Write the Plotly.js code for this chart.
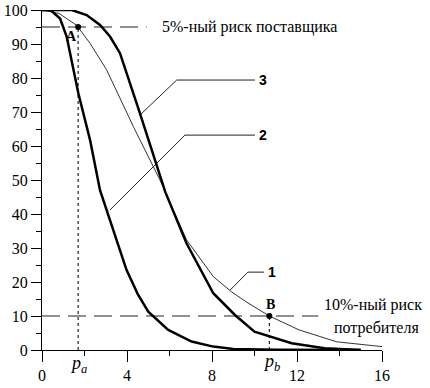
<!DOCTYPE html>
<html><head><meta charset="utf-8">
<script src="https://cdn.plot.ly/plotly-3.0.1.min.js"></script>
<style>body{margin:0;background:#fff}#c{width:430px;height:388px}</style>
</head><body><div id="c"></div>
<script>
// Curve 1 (thin)
const x1 = [0, 0.8, 1.63, 2.26, 3.04, 4.3, 5.55, 6.8, 8.06, 8.9, 9.6, 10.7, 12.1, 13.87, 16];
const y1 = [100, 99, 95.5, 90.2, 82.4, 65.7, 50, 32.4, 21.6, 17.2, 14.2, 10, 5.9, 2.4, 1];
// Curve 2 (thick, steep)
const x2 = [0, 0.4, 0.85, 1.16, 1.71, 2.26, 2.73, 3.3, 3.98, 4.5, 5.0, 5.94, 7.04, 8.06, 9, 11, 13, 15];
const y2 = [100, 100, 97.5, 92.2, 75.5, 61.8, 47, 36, 23.5, 16.5, 11.3, 5.9, 2.5, 1, 0.3, 0.1, 0, 0];
// Curve 3 (thick)
const x3 = [0, 1.0, 1.4, 2.1, 2.73, 3.2, 3.67, 4.61, 5.8, 6.8, 8.06, 9.08, 10.0, 11.75, 13.3, 15];
const y3 = [100, 100, 100, 98.5, 95.6, 92.2, 87.3, 69.6, 46.5, 31.4, 16.7, 10.3, 5.4, 2, 0.5, 0];

const supplierRisk = 95, consumerRisk = 10;
const pa = 1.7, pb = 10.7;
const riskLineEnds = [4.93, 13.0];
const pointLabels = ['A', 'B'];

const curveLabels = ['3', '2', '1'];
const leaderTextX = [10.02, 10.02, 10.45];
const leaderY = [79.4, 63.2, 22.9];
const leaderBendX = [6.34, 6.73, 9.69];
const leaderEndX = [4.61, 3.2, 8.85];
const leaderEndY = [69.1, 41.2, 17.6];

const xTickVals = [0, 4, 8, 12, 16];
const yTickVals = [0, 10, 20, 30, 40, 50, 60, 70, 80, 90, 100];

const serif = 'Liberation Serif';
const traces = [];
traces.push({x:[0, riskLineEnds[0]], y:[supplierRisk, supplierRisk], mode:'lines', line:{color:'#222', width:1, dash:'18px,8px'}, hoverinfo:'skip'});
traces.push({x:[0, riskLineEnds[1]], y:[consumerRisk, consumerRisk], mode:'lines', line:{color:'#222', width:1, dash:'18px,8px'}, hoverinfo:'skip'});
traces.push({x:[pa, pa], y:[0, supplierRisk], mode:'lines', line:{color:'#222', width:1.2, dash:'dot'}, hoverinfo:'skip'});
traces.push({x:[pb, pb], y:[0, consumerRisk], mode:'lines', line:{color:'#222', width:1.2, dash:'dot'}, hoverinfo:'skip'});
for (let i = 0; i < curveLabels.length; i++) {
  traces.push({x:[leaderTextX[i], leaderBendX[i], leaderEndX[i]], y:[leaderY[i], leaderY[i], leaderEndY[i]], mode:'lines', line:{color:'#222', width:1}, hoverinfo:'skip'});
}
traces.push({x:x1, y:y1, mode:'lines', line:{color:'#333', width:1}, cliponaxis:false});
traces.push({x:x2, y:y2, mode:'lines', line:{color:'#000', width:2.5}, cliponaxis:false});
traces.push({x:x3, y:y3, mode:'lines', line:{color:'#000', width:2.5}, cliponaxis:false});
traces.push({x:[pa, pb], y:[supplierRisk, consumerRisk], mode:'markers', marker:{color:'#000', size:6}, cliponaxis:false});

const annotations = [
  {x:5.55, y:supplierRisk, xanchor:'left', yanchor:'middle', text:'5%-ный риск поставщика', font:{family:serif, size:16, color:'#000'}},
  {x:13.18, y:13.2, xanchor:'left', yanchor:'middle', text:'10%-ный риск', font:{family:serif, size:16, color:'#000'}},
  {x:13.65, y:6.5, xanchor:'left', yanchor:'middle', text:'потребителя', font:{family:serif, size:16, color:'#000'}},
  {x:1.41, y:92.1, xanchor:'center', yanchor:'middle', text:'<b>'+pointLabels[0]+'</b>', font:{family:serif, size:14, color:'#000'}},
  {x:10.73, y:13.4, xanchor:'center', yanchor:'middle', text:'<b>'+pointLabels[1]+'</b>', font:{family:serif, size:14, color:'#000'}}
];
for (let i = 0; i < curveLabels.length; i++) {
  annotations.push({x:leaderTextX[i] + 0.1, y:leaderY[i], xanchor:'left', yanchor:'middle', text:'<b>'+curveLabels[i]+'</b>', font:{family:'Liberation Sans', size:14, color:'#000'}});
}
annotations.forEach(a => { a.xref = 'x'; a.yref = 'y'; });
annotations.push({x:pa, xref:'x', y:-0.042, yref:'paper', xanchor:'center', yanchor:'middle', text:'<i>p</i><sub><i>a</i></sub>', font:{family:serif, size:18, color:'#000'}});
annotations.push({x:pb + 0.1, xref:'x', y:-0.036, yref:'paper', xanchor:'center', yanchor:'middle', text:'<i>p</i><sub><i>b</i></sub>', font:{family:serif, size:18, color:'#000'}});
annotations.forEach(a => { a.showarrow = false; });

const layout = {
  width:430, height:388,
  margin:{l:42, r:48, t:10, b:38},
  paper_bgcolor:'#fff', plot_bgcolor:'#fff',
  showlegend:false,
  xaxis:{range:[0,16], showgrid:false, zeroline:false, showline:true, linecolor:'#000', linewidth:1,
    ticks:'outside', ticklen:11, tickcolor:'#000', tickvals:xTickVals, ticklabelstandoff:0,
    minor:{dtick:2, ticks:'outside', ticklen:5, tickcolor:'#000', showgrid:false},
    tickfont:{family:serif, size:16, color:'#000'}},
  yaxis:{range:[0,100], showgrid:false, zeroline:false, showline:true, linecolor:'#000', linewidth:1,
    ticks:'outside', ticklen:10, tickcolor:'#000', tickvals:yTickVals,
    minor:{dtick:5, ticks:'outside', ticklen:5, tickcolor:'#000', showgrid:false},
    tickfont:{family:serif, size:16, color:'#000'}},
  annotations:annotations
};
Plotly.newPlot('c', traces, layout, {staticPlot:true, displayModeBar:false});
</script></body></html>
